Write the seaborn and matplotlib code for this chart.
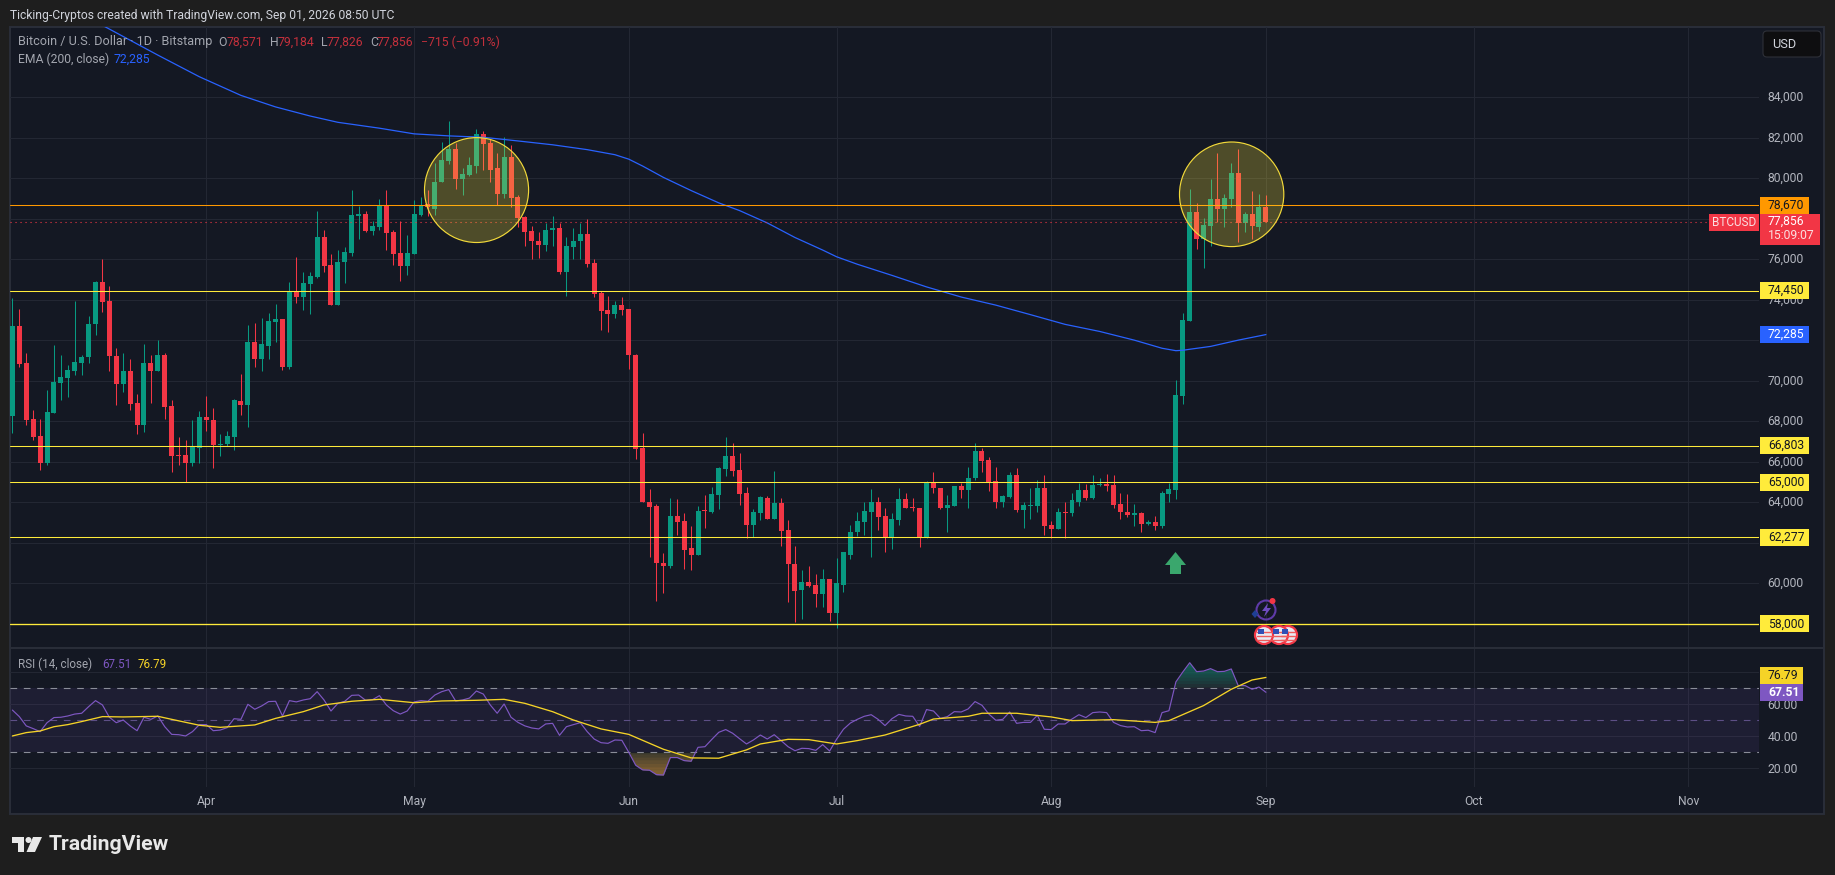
import matplotlib
matplotlib.use("Agg")
import matplotlib.pyplot as plt
from matplotlib.patches import Rectangle, Ellipse, Polygon, Circle, FancyBboxPatch
from matplotlib.transforms import ScaledTranslation
import numpy as np
import pandas as pd
import seaborn as sns

sns.set_theme(style="dark")
plt.rcParams['font.family'] = ['Roboto', 'DejaVu Sans']

opens = [68270,72720,70870,68110,67270,65940,68430,69890,70130,70480,70870,71200,72800,74890,73940,71220,69850,70480,68900,67820,70870,70480,71280,68760,66320,66320,65920,66690,68210,68090,66840,66860,67230,69010,68800,71920,71060,71710,72900,73040,70690,74420,74150,74780,75150,77100,75700,73760,75850,76320,78140,78240,77400,77610,78630,77340,76320,75660,76260,78180,78720,78510,79820,80870,81460,79970,80150,80620,82200,81750,80520,79230,81050,79080,78080,77410,76930,76690,77450,77550,75380,76610,76890,77260,75830,74350,73490,73310,73740,73550,71280,66700,64020,63840,61020,60830,63340,63100,61720,61420,63580,63500,64380,65660,66300,65610,64480,62860,63450,64230,63190,63980,62650,60970,59690,60040,59930,59450,60190,58520,59930,61420,62510,63050,63530,64030,63340,62220,63150,64140,63790,63740,62220,65000,64730,63740,63840,64830,64620,65180,66540,66110,65070,64030,64280,65370,63640,63840,63840,64730,62860,62700,63500,63450,64030,64620,64230,64870,64920,64870,63930,63530,63390,63450,62940,63050,62810,64430,64620,69260,72960,78340,77010,77650,78980,78480,78980,80260,77810,78240,77600,78571]
highs = [74070,73550,71400,68540,68130,69560,71750,71300,70790,73940,71300,73210,74930,76010,74680,71610,71360,71080,69360,71810,71300,72020,71360,69050,67250,67060,68090,68500,69250,68640,67350,67510,69090,70340,72740,72840,73080,73350,73820,73040,74890,76110,75400,75400,78370,77450,76280,76460,76630,79450,78630,78370,77900,78980,79450,77450,77900,77180,78940,79080,79430,80780,81790,82830,81750,80520,81070,82440,82320,81950,81230,82050,81640,79190,78120,77650,77340,77810,78140,77810,77100,77550,77810,78000,76010,74420,74210,73960,74130,73550,71320,67430,64660,63930,61510,64230,64170,63480,62810,63830,64360,64780,65760,67220,66940,66420,64780,63650,64310,64310,65560,64230,63150,61850,60680,60870,60470,60730,60190,61270,61530,62890,63500,64020,64660,64280,63740,63450,64690,64480,64230,63740,65070,65490,64730,64360,64830,64970,65750,66940,66680,66250,65760,64380,65490,65710,64020,64690,65120,65370,63100,63740,64020,64480,64970,64920,65370,65180,65420,65370,64480,64430,63930,63530,63150,63340,64570,64970,70060,73360,79470,78760,78030,79970,81230,79220,80780,81440,78320,79360,79220,79184]
lows = [67410,70690,67820,67100,65610,65830,68430,69030,69190,70280,70280,70890,72260,73390,70480,68800,69460,68540,67350,67450,68900,70480,68130,65510,65830,65010,65770,65940,67510,65710,66280,66800,66590,68330,67720,70690,70480,71080,71920,70520,70600,73860,73490,73310,75090,75400,73740,73740,74820,76180,77000,77340,77180,77450,76460,75700,74930,75250,76260,78160,78120,78200,79820,80720,79490,79190,80110,80290,80420,79840,78670,79020,78610,77590,76670,76010,76070,76420,76670,75300,74210,76010,76010,75600,74150,72490,72430,73100,73250,70590,66130,64000,61320,59120,59500,60750,62410,60730,60680,61420,62750,63450,63650,65310,65310,63880,62240,62290,63150,63190,63190,61850,59070,58080,58260,59810,58810,58810,58120,57790,59570,61200,62320,62410,61280,62620,61540,61680,62890,63740,63580,61770,62220,64450,63690,62510,63840,64230,63740,65120,65520,64570,63710,63760,64230,63530,62720,63190,63530,62410,62240,62700,62240,63310,63840,64090,64140,64830,64570,63740,63190,63260,62810,62510,62890,62650,62720,64000,64140,68880,72960,76510,75590,76680,77840,77600,78580,76850,77370,76990,77420,77826]
closes = [72720,70830,68070,67230,65940,68460,69930,70200,70520,70930,71200,72800,74890,73900,71220,69850,70480,68840,67820,70870,70480,71280,68700,66280,66280,65920,66780,68210,68090,66840,66900,67270,69030,68800,71920,71080,71810,72960,73040,70690,74420,74150,74820,75170,77100,75660,73740,75870,76360,78180,78240,77400,77650,78630,77300,76260,75660,76320,78240,78630,78610,79820,80910,81460,79970,80210,80660,82200,81710,80420,79230,81050,79040,78040,77360,76890,76690,77450,77550,75380,76670,76930,77260,75770,74310,73450,73310,73740,73490,71280,66650,64000,63790,61020,60830,63340,63050,61660,61420,63580,63550,64430,65710,66300,65560,64430,62860,63500,64280,63190,63980,62600,60970,59640,60040,59880,59450,60190,58520,59990,61530,62550,63100,63580,64030,63290,62220,63190,64140,63740,63740,62220,65020,64690,63740,63880,64830,64620,65210,66540,66060,65000,64030,64310,65370,63640,63880,63880,64730,62810,62700,63500,63450,64090,64620,64230,64870,64900,64830,63880,63500,63390,63450,62940,63050,62810,64480,64680,69310,73010,78340,77010,77700,78980,78480,79030,80260,77810,78240,77670,78580,77856]

ema_days = [0,13,21,27,33,38,43,47,53,58,63,68,73,78,83,87,89,91,94,98,102,105,109,113,117,119,122,127,132,137,142,147,152,157,162,166,168,169,170,173,177,181]
ema_vals = [89900,87560,86090,85020,84100,83530,83080,82770,82480,82200,82100,82030,81850,81660,81420,81170,80950,80610,80050,79400,78790,78410,77800,77080,76460,76130,75760,75210,74640,74140,73740,73270,72790,72440,72010,71610,71490,71510,71560,71700,72010,72285]

rsi_vals = [56.4,52.3,46.5,44.8,42.9,48.5,51.7,51.9,52.7,53.9,54.4,58.5,62.3,59.6,51.9,48.5,50.2,46.5,43.5,51.9,50.6,52.7,46.0,41.2,41.0,40.2,42.9,47.3,47.3,43.5,43.9,45.4,51.0,50.6,60.0,56.9,59.0,61.7,61.9,52.7,62.3,61.5,62.7,63.5,67.9,62.7,55.8,60.6,61.9,65.6,65.8,62.5,62.9,65.4,59.6,56.0,53.9,55.8,61.5,62.3,61.9,65.8,67.9,69.2,62.1,62.7,63.9,68.3,66.4,59.6,54.4,60.2,51.9,48.7,46.5,45.2,44.6,47.7,48.1,40.6,46.0,47.3,48.5,42.9,38.3,36.0,35.6,37.7,37.5,30.0,21.9,19.0,18.8,16.0,15.8,26.7,26.7,24.8,24.4,33.1,33.5,38.1,42.5,44.2,41.9,38.5,35.2,37.7,40.8,38.3,41.0,37.3,33.5,31.0,32.5,32.3,31.2,34.8,30.8,38.1,44.4,48.3,50.6,52.5,53.5,50.6,46.7,51.0,53.7,52.7,52.5,46.2,56.7,55.8,51.2,52.3,55.4,55.2,57.1,61.7,59.4,53.9,50.0,50.6,55.2,48.1,48.7,48.7,53.1,44.4,44.2,47.7,47.7,50.8,53.5,51.7,54.8,55.2,54.8,48.7,46.7,45.8,46.0,43.5,43.8,42.3,54.8,56.0,74.0,80.2,86.0,80.4,80.8,82.3,80.4,80.6,82.1,71.7,71.7,69.4,70.8,67.51]

ma_days = [0,2,4,6,8,10,13,16,21,23,27,30,35,38,42,45,49,53,58,62,67,71,74,78,81,85,89,94,98,102,106,108,112,115,119,122,126,131,133,138,140,145,150,153,159,165,167,172,176,179,181]
ma_vals = [40.2,42.3,43.3,46.0,47.3,49.2,52.3,52.1,52.5,50.6,46.9,45.6,47.1,51.2,55.4,59.6,61.9,63.1,61.0,62.1,62.5,63.1,60.6,55.4,50.2,44.6,41.2,31.9,26.5,26.3,31.5,35.2,38.1,37.9,35.2,37.3,40.8,47.5,50.8,52.5,54.4,54.4,52.1,49.8,50.4,48.7,49.8,59.2,69.4,75.2,76.79]

price_ticks = [58000,60000,62000,64000,66000,68000,70000,72000,74000,76000,78000,80000,82000,84000]
hidden_price_labels = [58000,62000,72000,78000]
rsi_ticks = [20,40,60,80]
month_days = [28,58,89,119,150,181,211,242]
month_labels = ["Apr","May","Jun","Jul","Aug","Sep","Oct","Nov"]
levels = [78670,74450,66803,65000,62277,58000]
level_widths = [0.75,0.75,0.75,0.75,0.75,0.95]

BG = "#141823"; OUTER = "#1e1e1e"; GRID = "#232733"; TXT = "#b2b5be"
GREEN = "#089981"; RED = "#f23645"; YEL = "#ffeb3b"; ORG = "#ff9800"; BLUE = "#2962ff"; PUR = "#7e57c2"

W, H = 1835, 875
fig = plt.figure(figsize=(W/100, H/100), dpi=100, facecolor=OUTER)
fig.patches.append(Rectangle((10/W, 1-814/H), 1814/W, 787/H, transform=fig.transFigure,
                             facecolor=BG, edgecolor="#2a2e39", lw=1.4, zorder=-5))

ax = fig.add_axes([10/W, 1-648/H, 1749/W, 621/H], facecolor="none")
rs = fig.add_axes([10/W, 1-787/H, 1749/W, 139/H], facecolor="none", sharex=ax)
ov = fig.add_axes([0, 0, 1, 1], facecolor="none")
ov.set_xlim(0, W); ov.set_ylim(H, 0); ov.axis("off"); ov.set_zorder(10)

df = pd.DataFrame({"day": np.arange(len(closes)), "o": opens, "h": highs, "l": lows, "c": closes})
df["up"] = df.c >= df.o
df["color"] = np.where(df.up, GREEN, RED)
df["bottom"] = df[["o", "c"]].min(axis=1)
df["height"] = (df.o - df.c).abs().clip(lower=50)

ax.vlines(df.day, df.l, df.h, colors=df.color, lw=0.75, zorder=3)
ax.bar(df.day, df.height, bottom=df.bottom, width=0.72, color=df.color, lw=0, zorder=4)
sns.lineplot(x=ema_days, y=ema_vals, ax=ax, color=BLUE, lw=0.9, zorder=5)
for lv, lw_ in zip(levels, level_widths):
    ax.axhline(lv, color=ORG if lv == 78670 else YEL, lw=lw_, zorder=6)
ax.axhline(closes[-1], color=RED, lw=0.8, ls=(0, (1, 3.5)), zorder=6)

ax.set_xlim(-0.347, 252.2)
ax.set_ylim(56804, 87478)
ax.yaxis.tick_right()
ax.set_yticks(price_ticks)
ax.set_yticklabels(["" if v in hidden_price_labels else f"{v:,}" for v in price_ticks], color=TXT, fontsize=8.7)
ax.tick_params(axis="y", length=0, pad=6)
ax.tick_params(axis="x", length=0, labelbottom=False)
ax.grid(True, color=GRID, lw=0.75, zorder=0)
ax.set_axisbelow(True)
ax.set_xlabel(""); ax.set_ylabel("")
for s in ax.spines.values():
    s.set_visible(False)
shift = ScaledTranslation(0, 1.5/100, fig.dpi_scale_trans)
for lab in ax.get_yticklabels():
    lab.set_transform(lab.get_transform() + shift)

# RSI pane
rsi = np.array(rsi_vals)
days = np.arange(len(rsi))
rs.axhspan(30, 70, color=PUR, alpha=0.10, lw=0, zorder=1)
rs.fill_between(days, rsi, 70, where=rsi > 70, interpolate=True, color="#30343a", alpha=0.5, lw=0, zorder=2)
for t in np.arange(71, 86, 2.0):
    rs.fill_between(days, rsi, t, where=rsi > t, interpolate=True, color=GREEN, alpha=0.09, lw=0, zorder=2)
rs.fill_between(days, rsi, 30, where=rsi < 30, interpolate=True, color="#4a4632", alpha=0.7, lw=0, zorder=2)
for t in np.arange(29, 16, -2.0):
    rs.fill_between(days, rsi, t, where=rsi < t, interpolate=True, color="#f2a33c", alpha=0.08, lw=0, zorder=2)
for lv, col in [(70, "#8a8d98"), (50, "#5d4f86"), (30, "#8a8d98")]:
    rs.axhline(lv, color=col, lw=0.8, ls=(0, (6, 6)), zorder=3)
sns.lineplot(x=days, y=rsi, ax=rs, color=PUR, lw=0.85, zorder=4)
sns.lineplot(x=ma_days, y=ma_vals, ax=rs, color="#f5d327", lw=0.95, zorder=5)
rs.set_ylim(8.3, 95.2)
rs.yaxis.tick_right()
rs.set_yticks(rsi_ticks)
rs.set_yticklabels([f"{v:.2f}" for v in rsi_ticks], color=TXT, fontsize=8.7)
rs.set_xticks(month_days)
rs.set_xticklabels(month_labels, color=TXT, fontsize=8.7)
rs.tick_params(axis="both", length=0)
rs.tick_params(axis="y", pad=6)
rs.tick_params(axis="x", pad=6)
rs.grid(True, color=GRID, lw=0.75, zorder=0)
rs.set_axisbelow(True)
rs.set_xlabel(""); rs.set_ylabel("")
for s in rs.spines.values():
    s.set_visible(False)

ov.plot([10, 1824], [648, 648], color="#2a2e39", lw=1.4)

# highlight ellipses
for x0, x1, y0, y1 in [(424.5, 528.6, 137.6, 242.5), (1179.5, 1283.8, 142, 246.6)]:
    ov.add_patch(Ellipse(((x0+x1)/2, (y0+y1)/2), x1-x0, y1-y0, facecolor=(1, 0.92, 0.23, 0.25),
                         edgecolor="#f2d93a", lw=0.85))
# green arrow
ov.add_patch(Polygon([(1175.5, 552), (1186, 565), (1181, 565), (1181, 574), (1170, 574), (1170, 565), (1165, 565)],
                     facecolor="#3aa76d", edgecolor="none"))

def py(a, v):
    return H - a.transData.transform((0, v))[1]

def badge(y, text, fc, tc, x0=1760, x1=1809, h=17, weight="normal"):
    ov.add_patch(Rectangle((x0, y-h/2), x1-x0, h, facecolor=fc, edgecolor="none", zorder=5))
    ov.text(x0+8, y, text, color=tc, fontsize=8.7, va="center", ha="left", weight=weight, zorder=6)

fig.canvas.draw()
badge(py(ax, 78670), "78,670", ORG, "#131722")
for lv, lab in [(74450, "74,450"), (66803, "66,803"), (65000, "65,000"), (62277, "62,277"), (58000, "58,000")]:
    badge(py(ax, lv), lab, YEL, "#131722")
badge(py(ax, 72285), "72,285", BLUE, "#ffffff")

ov.add_patch(Rectangle((1709, 214), 50, 17, facecolor=RED, edgecolor="none", zorder=5))
ov.text(1734, 222.5, "BTCUSD", color="#fbdfe1", fontsize=8.5, ha="center", va="center", zorder=6)
ov.add_patch(Rectangle((1760, 214), 60, 31, facecolor=RED, edgecolor="none", zorder=5))
ov.text(1768, 221.5, "77,856", color="#ffffff", fontsize=8.7, va="center", zorder=6)
ov.text(1768, 235.5, "15:09:07", color="#fbdfe1", fontsize=8.7, va="center", zorder=6)

badge(675.5, "76.79", "#f5d327", "#131722", x1=1803)
badge(692.5, "67.51", PUR, "#ffffff", x1=1803, weight="bold")

# USD box
ov.add_patch(FancyBboxPatch((1766, 34), 52, 20, boxstyle="round,pad=3,rounding_size=4", facecolor="#0e0e10",
                            edgecolor="#2e3038", lw=0.8, zorder=5))
ov.text(1772, 44.5, "USD", color="#d1d4dc", fontsize=9.2, ha="left", va="center", zorder=6)

# header texts
ov.text(10, 15, "Ticking-Cryptos created with TradingView.com, Sep 01, 2026 08:50 UTC",
        color="#d1d4dc", fontsize=8.7, va="center")
LG = "#a3a6af"; DR = "#c4303c"
ov.text(18, 42, "Bitcoin / U.S. Dollar · 1D · Bitstamp", color=LG, fontsize=9.1, va="center")
for x, t, c in [(218, "O", LG), (227, "78,571", DR), (270, "H", LG), (278, "79,184", DR),
                (321, "L", LG), (327, "77,826", DR), (370, "C", LG), (377, "77,856", DR),
                (421, "−715 (−0.91%)", DR)]:
    ov.text(x, 42, t, color=c, fontsize=8.8, va="center")
ov.text(18, 59, "EMA (200, close)", color=LG, fontsize=8.7, va="center")
ov.text(114, 59, "72,285", color=BLUE, fontsize=8.8, va="center")
ov.text(18, 664, "RSI (14, close)", color=LG, fontsize=8.4, va="center")
ov.text(102, 664, "67.51", color=PUR, fontsize=8.4, va="center")
ov.text(138, 664, "76.79", color="#f5d327", fontsize=8.4, va="center")

# event icons
ov.add_patch(Circle((1266, 610), 9.5, facecolor="none", edgecolor="#5e3aa8", lw=1.5, zorder=6))
ov.add_patch(Polygon([(1268, 603), (1262, 611), (1266, 611), (1264, 617), (1271, 608), (1267, 608)],
                     facecolor="#6f4cc0", edgecolor="none", zorder=7))
ov.add_patch(Circle((1272.5, 601), 3, facecolor=RED, edgecolor="none", zorder=8))
ov.add_patch(Polygon([(1255, 610), (1258.5, 614), (1255, 618), (1251.5, 614)], facecolor="#1f3f94",
                     edgecolor="none", zorder=7))
for cx in [1288, 1279, 1264]:
    ov.add_patch(Circle((cx, 635), 9, facecolor="#e7e9f2", edgecolor=RED, lw=1.6, zorder=6))
    for dy in (-3, 1, 5):
        ov.plot([cx-7, cx+7], [635+dy, 635+dy], color="#ef5c5c", lw=1.0, zorder=7)
    ov.add_patch(Rectangle((cx-6, 629), 6, 5, facecolor="#2f4fb5", edgecolor="none", zorder=8))

# TradingView logo
ov.add_patch(Polygon([(12, 837), (24, 837), (24, 852), (18, 852), (18, 843), (12, 843)], facecolor="#e8e8e8", edgecolor="none"))
ov.add_patch(Circle((28.5, 840), 3, facecolor="#e8e8e8", edgecolor="none"))
ov.add_patch(Polygon([(33, 837), (42, 837), (35, 852), (26.5, 852)], facecolor="#e8e8e8", edgecolor="none"))
ov.text(49, 845, "TradingView", color="#e8e8e8", fontsize=15.3, weight="bold", va="center")

fig.savefig("out.png", dpi=100, facecolor=OUTER)
